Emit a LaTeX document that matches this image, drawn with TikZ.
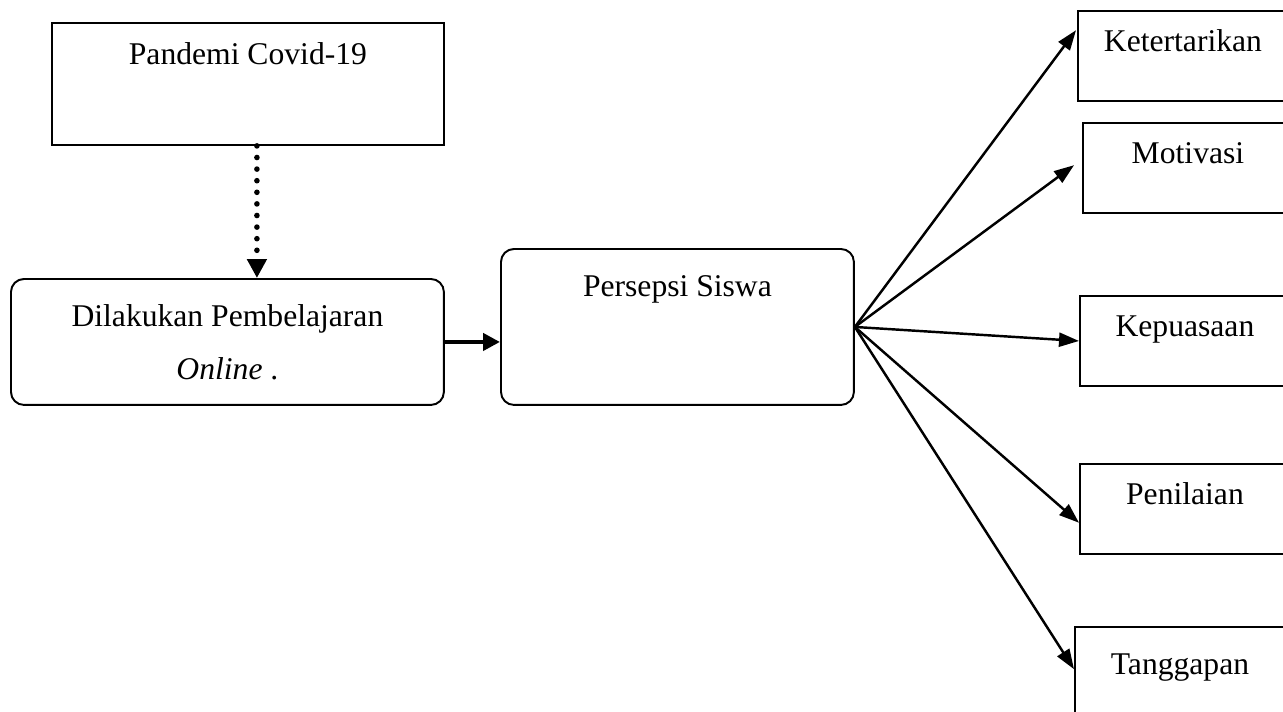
\documentclass[tikz,border=0pt]{standalone}
\usepackage{fontspec}
\setmainfont{Liberation Serif}
\usetikzlibrary{arrows.meta,calc}
\tikzset{
    cause/.style={rectangle, draw=black, line width=1.1pt, anchor=north west, font=\fontsize{18}{30}\selectfont, minimum width=7.84cm, minimum height=2.44cm, text height=12pt, text depth=1.22cm},
    process/.style={rectangle, rounded corners=0.26cm, draw=black, line width=1.1pt, anchor=north west, font=\fontsize{18}{30}\selectfont, align=center},
    aspect/.style={rectangle, draw=black, line width=1.1pt, anchor=north west, font=\fontsize{18}{30}\selectfont, minimum width=4.6cm, minimum height=1.8cm, text height=12pt, text depth=0.62cm, execute at end node=\hspace{0.4cm}},
    fanArrow/.style={-{Triangle[length=0.4cm,width=0.28cm]}, line width=1.4pt},
    boldArrow/.style={-{Triangle[length=0.34cm,width=0.34cm]}, line width=2.8pt},
    dotArrow/.style={-{Triangle[length=0.38cm,width=0.38cm]}, line width=3.2pt, line cap=round, dash pattern=on 0pt off 6.6pt}
}

\begin{document}
\begin{tikzpicture}[x=0.02cm, y=-0.02cm]
\useasboundingbox (0,0) rectangle (1283,711);

% Left side
\node[cause] (covid) at (51,22) {Pandemi Covid-19};
\node[process, minimum width=8.66cm, minimum height=2.52cm] (online) at (10,278) {Dilakukan Pembelajaran\\\textit{Online} .};
\node[process, minimum width=7.06cm, minimum height=3.12cm, text height=12pt, text depth=1.66cm] (persepsi) at (500,248) {Persepsi Siswa};

% Right side (aspects)
\node[aspect] (ketertarikan) at (1077,10) {Ketertarikan};
\node[aspect] (motivasi) at (1082,122) {Motivasi};
\node[aspect] (kepuasaan) at (1079,295) {Kepuasaan};
\node[aspect] (penilaian) at (1079,463) {Penilaian};
\node[aspect, text depth=0.34cm] (tanggapan) at (1074,626) {Tanggapan};

% Draw arrows
\coordinate (dotTop) at ([xshift=0.18cm]covid.south);
\draw[dotArrow] (dotTop) -- (dotTop |- online.north);
\draw[boldArrow] (online.east) -- (online.east -| persepsi.west);

\foreach \name/\f/\dx in {ketertarikan/0.22/-1,motivasi/0.47/-8,kepuasaan/0.5/0,penilaian/0.65/0,tanggapan/0.47/0} {
  \draw[fanArrow] (persepsi.east) -- ($(\name.north west)!\f!(\name.south west)+(\dx,0)$);
}

\end{tikzpicture}
\end{document}
